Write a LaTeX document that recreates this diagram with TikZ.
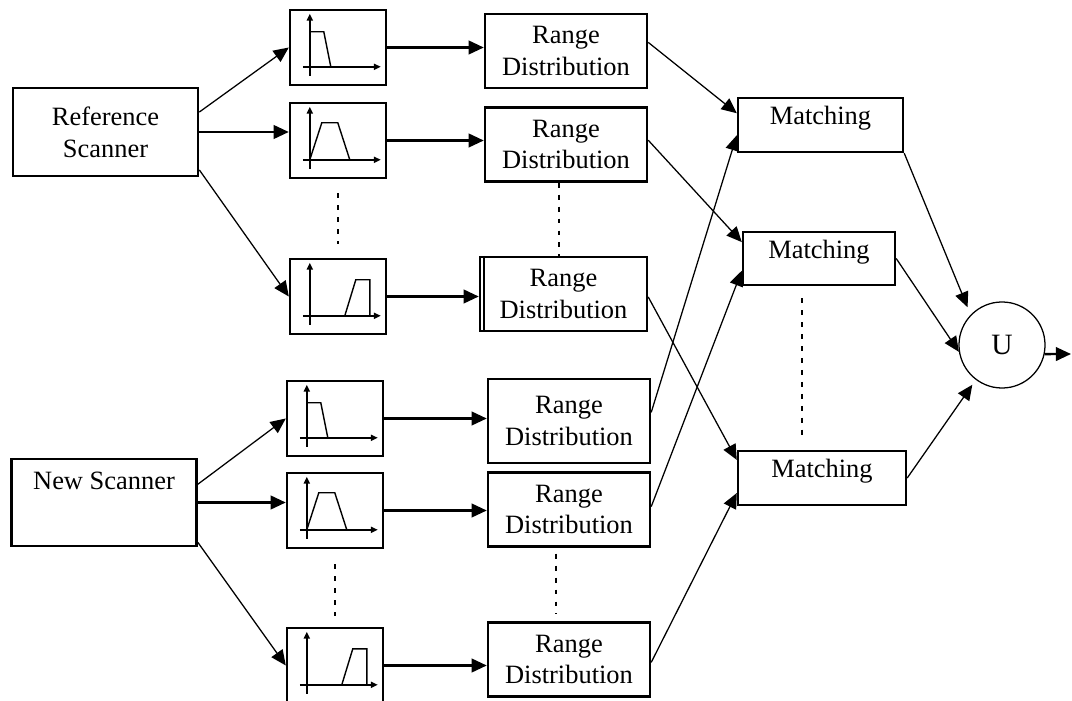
\documentclass[tikz,border=0pt]{standalone}
\usepackage{fontspec}
\setmainfont{Liberation Serif}
\usetikzlibrary{arrows.meta, calc}

\begin{document}
\begin{tikzpicture}[
    x=0.025cm, y=-0.025cm,
    >={Triangle[length=0.38cm, width=0.34cm]},
    box/.style={draw, line width=1.7pt, font=\fontsize{18.8}{22.7}\selectfont,
                align=center, inner sep=2pt},
    scanbox/.style={box, minimum width=4.63cm, minimum height=2.2cm},
    plotbox/.style={draw, line width=1.7pt, minimum width=2.4cm, minimum height=1.875cm},
    rangebox/.style={box, minimum width=4.05cm, minimum height=1.85cm},
    matchbox/.style={box, minimum height=1.35cm, text height=0.45cm, text depth=0.47cm},
    arr/.style={->, line width=0.9pt},
    thickarr/.style={->, line width=1.7pt},
    axis/.style={-{Triangle[length=0.17cm, width=0.15cm]}, line width=1.6pt},
    curve/.style={line width=1pt},
    dots/.style={line width=1.6pt, dash pattern=on 3.5pt off 5pt},
]
\useasboundingbox (0,0) rectangle (1072,701);

% Scanners
\node[scanbox] (ref) at (105.5,132) {Reference\\Scanner};
\node[scanbox, minimum height=2.175cm, text height=0.45cm, text depth=1.08cm] (new) at (104,502.5) {New Scanner};

% Plot boxes
\node[plotbox] (h1) at (338,47.5) {};
\node[plotbox] (h2) at (338,140.5) {};
\node[plotbox] (h3) at (338,296.5) {};
\node[plotbox] (h4) at (335,418.5) {};
\node[plotbox] (h5) at (335,510.5) {};
\node[plotbox] (h6) at (335,665.5) {};

% Plot axes and shapes
\foreach \h in {h1,h2,h3,h4,h5,h6} {
  \begin{scope}[shift={(\h.north west)}]
    \draw[axis] (21,67) -- (21,5);
    \draw[axis] (14,58) -- (92,58);
  \end{scope}
}
\foreach \h in {h1,h4}
  \draw[curve, shift={(\h.north west)}] (21,23) -- (35,23) -- (42,58);
\foreach \h in {h2,h5}
  \draw[curve, shift={(\h.north west)}] (21,58) -- (33,21) -- (49,21) -- (61,58);
\foreach \h in {h3,h6}
  \draw[curve, shift={(\h.north west)}] (56,58) -- (67,22) -- (81,22) -- (81,58);

% Range distributions
\node[rangebox] (r1) at (566,51) {Range\\Distribution};
\node[rangebox] (r2) at (566,144.5) {Range\\Distribution};
\node[rangebox, minimum width=4.175cm] (r3) at (563.5,294) {Range\\Distribution};
\draw[line width=1.7pt] ([xshift=0.125cm]r3.north west) -- ([xshift=0.125cm]r3.south west);
\node[rangebox, minimum height=2.1cm] (r4) at (569,421) {Range\\Distribution};
\node[rangebox] (r5) at (569,509.5) {Range\\Distribution};
\node[rangebox] (r6) at (569,659.5) {Range\\Distribution};

% Matching
\node[matchbox, minimum width=4.125cm] (m1) at (820.5,125) {Matching};
\node[matchbox, minimum width=3.8cm, minimum height=1.325cm] (m2) at (819,258.5) {Matching};
\node[matchbox, minimum width=4.2cm] (m3) at (822,478) {Matching};

% Union
\node[draw, circle, line width=0.9pt, minimum size=2.15cm, inner sep=0pt,
      font=\fontsize{21}{24}\selectfont] (u) at (1002,345) {U};
\coordinate (out) at (1071,354);

% Scanners -> plots
\draw[arr] (ref.12) -- (h1.west);
\draw[thickarr] (ref.east) -- (ref.east -| h2.west);
\draw[arr] (ref.-22) -- (h3.west);
\draw[arr] (new.11) -- (h4.west);
\draw[thickarr] (new.east) -- (new.east -| h5.west);
\draw[arr] (new.-23) -- (h6.west);

% Plots -> range distributions
\draw[thickarr] (h1.east) -- (h1.east -| r1.west);
\draw[thickarr] (h2.east) -- (h2.east -| r2.west);
\draw[thickarr] (h3.east) -- (h3.east -| r3.west);
\draw[thickarr] (h4.east) -- (h4.east -| r4.west);
\draw[thickarr] (h5.east) -- (h5.east -| r5.west);
\draw[thickarr] (h6.east) -- (h6.east -| r6.west);

% Range distributions -> matching
\draw[arr] (r1.6) -- (m1.172);
\draw[arr] (r2.3) -- (m2.168);
\draw[arr] (r3.-2) -- (m3.168);
\draw[arr] (r4.6) -- (m1.187);
\draw[arr] (r5.2) -- (m2.189);
\draw[arr] (r6.-2) -- (m3.190);

% Matching -> union -> out
\draw[arr, shorten >=0.2cm] (m1.south east) -- (u.136);
\draw[arr] (m2.east) -- (u.189);
\draw[arr, shorten >=0.15cm] (m3.east) -- (u.233);
\draw[thickarr] (u.-12) -- (out);

% Dotted continuation marks
\draw[dots, shorten <=0.35cm, shorten >=0.35cm] (h2.south) -- (h3.north);
\draw[dots, shorten <=0.38cm, shorten >=0.28cm] (h5.south) -- (h6.north);
\draw[dots] ([xshift=-0.18cm]r2.south) -- ([xshift=-0.18cm]r2.south |- r3.north);
\draw[dots, shorten <=0.15cm, shorten >=0.18cm] ([xshift=-0.33cm]r5.south) -- ([xshift=-0.33cm]r5.south |- r6.north);
\draw[dots, shorten <=0.3cm, shorten >=0.33cm] ([xshift=-0.43cm]m2.south) -- ([xshift=-0.43cm]m2.south |- m3.north);

\end{tikzpicture}
\end{document}
